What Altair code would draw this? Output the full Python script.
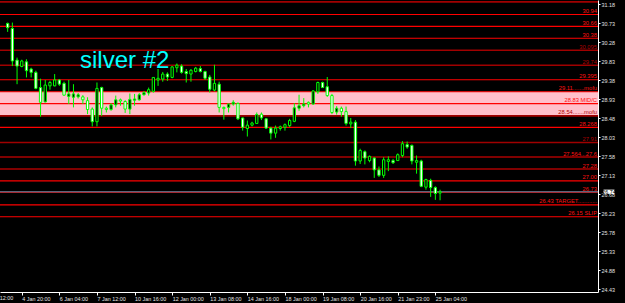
import json
import altair as alt
import pandas as pd

# ---- candle data (H4 silver) ----
opens = [30.73, 30.61, 29.86, 29.71, 29.82, 29.65, 29.57, 29.21, 28.87, 29.25,
         29.25, 29.39, 29.31, 29.00, 28.98, 28.99, 28.99, 28.90, 28.70, 28.40,
         29.21, 28.72, 28.69, 28.80, 28.92, 28.88, 28.70, 28.91, 28.92, 29.04,
         29.08, 29.12, 29.39, 29.41, 29.53, 29.45, 29.68, 29.72, 29.59, 29.53,
         29.59, 29.66, 29.59, 29.46, 29.15, 29.29, 28.74, 28.74, 28.82, 28.83,
         28.49, 28.24, 28.32, 28.36, 28.58, 28.47, 28.25, 28.13, 28.24, 28.27,
         28.31, 28.41, 28.72, 28.78, 28.86, 28.82, 29.11, 29.33, 29.23, 29.02,
         28.63, 28.72, 28.64, 28.35, 28.39, 27.47, 27.69, 27.48, 27.54, 27.26,
         27.13, 27.46, 27.48, 27.48, 27.60, 27.86, 27.84, 27.44, 27.47, 26.85,
         27.01, 26.84, 26.71]
highs = [30.75, 30.75, 29.92, 29.87, 29.88, 29.68, 29.61, 29.42, 29.39, 29.37,
         29.53, 29.41, 29.35, 29.39, 29.29, 29.08, 29.03, 28.98, 28.74, 29.33,
         29.23, 28.76, 28.84, 29.02, 28.95, 28.91, 29.07, 29.06, 29.08, 29.13,
         29.21, 29.46, 29.65, 29.58, 29.57, 29.72, 29.78, 29.76, 29.65, 29.65,
         29.70, 29.72, 29.61, 29.51, 29.75, 29.35, 28.76, 28.83, 28.91, 28.86,
         28.50, 28.43, 28.40, 28.62, 28.62, 28.49, 28.28, 28.31, 28.31, 28.36,
         28.47, 28.84, 29.04, 28.96, 28.88, 29.15, 29.35, 29.35, 29.46, 29.06,
         28.77, 28.76, 28.76, 28.49, 28.44, 27.76, 27.72, 27.60, 27.56, 27.34,
         27.56, 27.58, 27.52, 27.65, 27.94, 27.93, 27.86, 27.60, 27.50, 27.05,
         27.05, 26.87, 26.79]
lows = [30.53, 29.72, 29.29, 29.69, 29.45, 29.45, 29.17, 28.52, 28.86, 29.16,
        29.24, 29.25, 29.02, 28.82, 28.74, 28.95, 28.82, 28.58, 28.29, 28.29,
        28.54, 28.62, 28.66, 28.74, 28.78, 28.61, 28.58, 28.78, 28.90, 29.02,
        29.02, 29.09, 29.25, 29.35, 29.37, 29.43, 29.57, 29.54, 29.33, 29.35,
        29.57, 29.57, 29.39, 29.09, 29.12, 28.62, 28.45, 28.62, 28.78, 28.44,
        28.19, 28.05, 28.29, 28.35, 28.44, 28.23, 27.98, 28.02, 28.19, 28.19,
        28.27, 28.39, 28.66, 28.74, 28.74, 28.80, 29.06, 29.20, 28.99, 28.58,
        28.57, 28.52, 28.31, 28.25, 27.36, 27.40, 27.39, 27.44, 27.07, 27.09,
        27.07, 27.23, 27.40, 27.47, 27.56, 27.76, 27.39, 27.17, 26.85, 26.79,
        26.62, 26.55, 26.54]
closes = [30.63, 29.84, 29.72, 29.84, 29.61, 29.57, 29.19, 28.86, 29.27, 29.33,
          29.39, 29.29, 29.03, 29.06, 29.06, 29.04, 28.92, 28.69, 28.40, 29.19,
          28.72, 28.69, 28.80, 28.92, 28.89, 28.70, 28.93, 28.94, 29.04, 29.09,
          29.16, 29.45, 29.43, 29.53, 29.46, 29.70, 29.74, 29.57, 29.54, 29.62,
          29.67, 29.59, 29.43, 29.17, 29.31, 28.74, 28.71, 28.82, 28.86, 28.47,
          28.27, 28.32, 28.37, 28.57, 28.49, 28.25, 28.13, 28.25, 28.28, 28.33,
          28.43, 28.73, 28.78, 28.82, 28.82, 29.13, 29.33, 29.21, 29.02, 28.62,
          28.72, 28.64, 28.36, 28.39, 27.47, 27.72, 27.54, 27.58, 27.26, 27.13,
          27.50, 27.50, 27.43, 27.62, 27.88, 27.80, 27.47, 27.48, 26.87, 27.03,
          26.84, 26.70, 26.74]

# ---- horizontal levels ----
level_prices = [31.24, 30.94, 30.66, 30.38, 30.095, 29.74, 29.395, 29.11, 28.83,
                28.54, 28.268, 27.91, 27.564, 27.28, 27.00, 26.73, 26.43, 26.15]
level_labels = ["31.24", "30.94", "30.66", "30.38", "30.095", "29.74", "29.395",
                "29.11.......mofu", "28.83  MID/C", "28.54.......mofu", "28.268",
                "27.91", "27.564...27.6", "27.28", "27.00", "26.73",
                "26.43  TARGET............", "26.15  SLIP"]
key_levels = [31.24, 30.095, 29.74, 28.54, 27.91]
zone_top = [29.11]
zone_bottom = [28.54]
bid_price = [26.74]

# ---- axes ----
price_ticks = [31.18, 30.73, 30.28, 29.83, 29.38, 28.93, 28.48, 28.03, 27.58,
               27.13, 26.68, 26.23, 25.78, 25.33, 24.88, 24.43]
time_tick_idx = [3, 11, 19, 27, 35, 43, 51, 59, 67, 75, 83, 91]
time_tick_labels = ["4 Jan 20:00", "6 Jan 04:00", "7 Jan 12:00",
                    "10 Jan 16:00", "12 Jan 00:00", "13 Jan 08:00", "14 Jan 16:00",
                    "18 Jan 00:00", "19 Jan 08:00", "20 Jan 16:00", "21 Jan 23:00",
                    "25 Jan 04:00"]
# label of the tick just left of the visible window (only its end shows)
edge_tick_idx = [-5]
edge_tick_label = ["3 Jan 12:00"]
title_text = "silver #2"

candles = pd.DataFrame({
    "i": list(range(len(opens))),
    "o": opens, "h": highs, "l": lows, "c": closes,
})
levels = pd.DataFrame({
    "price": level_prices,
    "label": level_labels,
    "key": [p in key_levels for p in level_prices],
})
zone = pd.DataFrame({"top": zone_top, "bottom": zone_bottom})
bid = pd.DataFrame({"price": bid_price, "label": [f"{p:.2f}" for p in bid_price]})
edge = pd.DataFrame({"i": edge_tick_idx, "label": edge_tick_label})

W, H = 598, 292
xscale = alt.Scale(domain=[-0.565, 124.54], nice=False, zero=False)
yscale = alt.Scale(domain=[24.366, 31.285], nice=False, zero=False)
FONT = "Liberation Sans"
LIME = "#00ff00"
AXFS = 5.4

label_expr = "%s[round((datum.value - (%d)) / 8)]" % (
    json.dumps(time_tick_labels).replace('"', "'"), time_tick_idx[0])

x_axis = alt.Axis(values=time_tick_idx, labelExpr=label_expr, title=None,
                  labelAlign="left", labelBaseline="top", labelPadding=1,
                  labelFlush=False, labelOverlap=False, tickSize=3,
                  labelFontSize=AXFS, labelColor="#e0e0e0", labelFont=FONT,
                  domainColor="#ffffff", tickColor="#ffffff", grid=False)
y_axis = alt.Axis(orient="right", values=price_ticks, format=".2f", title=None,
                  tickSize=2, labelPadding=1, labelFontSize=AXFS,
                  labelColor="#e0e0e0", labelFont=FONT, labelOverlap=False,
                  labelFlush=False, domainColor="#ffffff", tickColor="#ffffff",
                  grid=False)


def Y(field):
    return alt.Y(field, scale=yscale, axis=y_axis)


def X(field):
    return alt.X(field, scale=xscale, axis=x_axis)


band = alt.Chart(zone).mark_rect(color="#ffc0cb").encode(
    x=alt.value(0), x2=alt.value(W),
    y=Y("top:Q"), y2="bottom:Q")

rules = alt.Chart(levels).mark_rule().encode(
    y=Y("price:Q"),
    stroke=alt.condition("datum.key", alt.value("#a00000"), alt.value("#ff0000")),
    strokeWidth=alt.condition("datum.key", alt.value(1.6), alt.value(1.1)),
)
texts = alt.Chart(levels).mark_text(align="right", baseline="alphabetic", dy=-1.5,
                                    fontSize=5.8, font=FONT).encode(
    x=alt.value(597),
    y=Y("price:Q"),
    text="label:N",
    color=alt.condition("datum.key", alt.value("#b00000"), alt.value("#ff1010")),
)
bid_line = alt.Chart(bid).mark_rule(color="#6a8fb0", strokeWidth=1).encode(
    y=Y("price:Q"))

wicks = alt.Chart(candles).mark_rule(color=LIME, strokeWidth=1).encode(
    x=X("i:Q"),
    y=Y("l:Q"),
    y2="h:Q",
)
bodies = alt.Chart(candles).mark_bar(width=2.3, stroke=LIME, strokeWidth=1).encode(
    x=X("i:Q"),
    y=Y("o:Q"),
    y2="c:Q",
    fill=alt.condition("datum.c >= datum.o", alt.value("#000000"), alt.value("#ffffff")),
)

edge_label = alt.Chart(edge).mark_text(
    align="left", baseline="top", fontSize=AXFS, font=FONT, color="#e0e0e0", dx=1
).encode(x=X("i:Q"), y=alt.value(H + 4), text="label:N")

title = alt.Chart(pd.DataFrame({"t": [title_text]})).mark_text(
    align="left", baseline="alphabetic", fontSize=24, font=FONT, color="#00ffff"
).encode(x=alt.value(80), y=alt.value(68), text="t:N")

box = alt.Chart(bid).mark_point(
    shape="M-1,-0.4L1,-0.4L1,0.4L-1,0.4Z", size=120, filled=True,
    color="#ffffff", opacity=1
).encode(x=alt.value(609), y=Y("price:Q"))
box_text = alt.Chart(bid).mark_text(fontSize=AXFS, font=FONT, color="#000000",
                                    baseline="middle", align="center").encode(
    x=alt.value(609), y=Y("price:Q"), text="label:N")

chart = alt.layer(band, rules, texts, bid_line, wicks, bodies, edge_label,
                  title, box, box_text).properties(
    width=W, height=H,
    background="#000000",
    padding={"left": 0, "top": 0, "right": 27, "bottom": 11},
    autosize=alt.AutoSizeParams(type="none"),
).configure_view(stroke=None)

chart.save("out.html", embed_options={"renderer": "svg", "actions": False})
